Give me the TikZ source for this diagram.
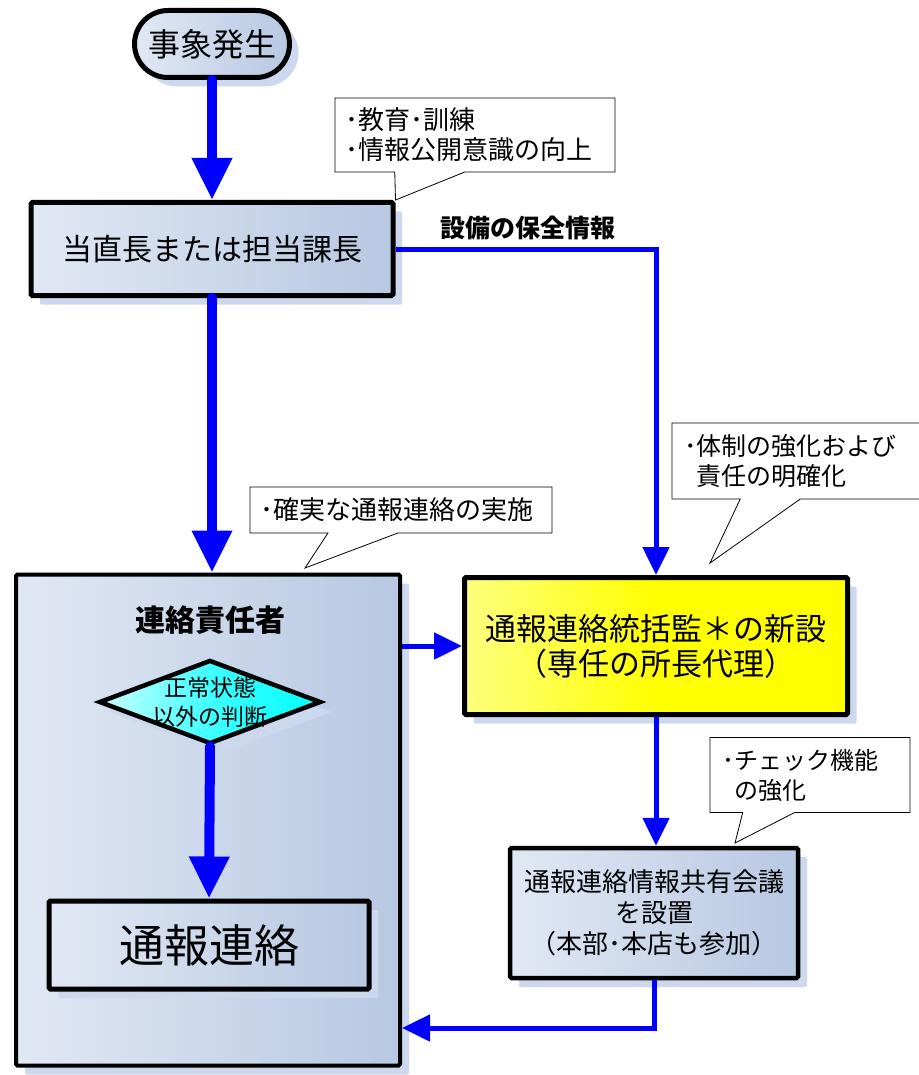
\documentclass[tikz,border=0pt]{standalone}
\usepackage{fontspec}
\setmainfont{Noto Sans CJK JP}
\usetikzlibrary{arrows.meta, shapes.geometric, shapes.misc, shapes.callouts, shadows}

\definecolor{boxlight}{HTML}{E1E8F4}
\definecolor{boxdark}{HTML}{B7C8E2}
\definecolor{shadowblue}{HTML}{CCD8EE}
\definecolor{flowblue}{HTML}{0000FF}

\newcommand{\jpsize}[2]{\fontsize{#1}{#2}\selectfont}

\begin{document}
\begin{tikzpicture}[
    x=1pt, y=-1pt,
    every node/.style={align=center, inner sep=0pt},
    base/.style={draw=black, line width=5pt,
        drop shadow={shadow xshift=9pt, shadow yshift=-9pt, fill=shadowblue, opacity=1}},
    stepbox/.style={base, rectangle, rounded corners=1.5pt, left color=boxlight, right color=boxdark},
    startbox/.style={base, rounded rectangle, left color=boxlight, right color=boxdark},
    judgebox/.style={base, diamond, left color=cyan!20, right color=cyan, middle color=cyan!75},
    keybox/.style={base, rectangle, rounded corners=1.5pt, left color=yellow!50, right color=yellow, middle color=yellow},
    note/.style={rectangle callout, draw=black, line width=0.8pt, fill=white, align=left,
        inner sep=0pt, callout pointer width=70pt},
    thick flow/.style={draw=flowblue, line width=10pt, line cap=round, -{Triangle[width=38pt,length=42pt]}},
    thin flow/.style={draw=flowblue, line width=5pt, -{Triangle[width=26pt,length=28pt]}}
]
\useasboundingbox (0,0) rectangle (918,1075);

% Start of the flow
\node[startbox, minimum width=155pt, minimum height=67pt, font=\jpsize{32}{38}] (event) at (212,44) {事象発生};
\node[stepbox, minimum width=362pt, minimum height=93pt, font=\jpsize{30}{36}] (duty) at (212,249) {当直長または担当課長};
\node[font=\bfseries\jpsize{25}{30}] (maint_label) at (528,228) {設備の保全情報};

% Liaison officer block
\node[stepbox, line width=4pt, minimum width=384pt, minimum height=491pt] (liaison) at (208,820) {};
\node[font=\bfseries\jpsize{30}{36}] (liaison_title) at (210,620) {連絡責任者};
\node[judgebox, line width=4.5pt, minimum width=222pt, minimum height=84pt,
    drop shadow={shadow xshift=11pt, shadow yshift=-10pt, fill=shadowblue, opacity=1}] (judge) at (210,702) {};
\node[font=\jpsize{23}{29}] (judge_text) at (judge) {正常状態\\以外の判断};
\node[stepbox, minimum width=320pt, minimum height=88pt, font=\jpsize{45}{54}] (report) at (209,945) {通報連絡};

% New posts
\node[keybox, minimum width=383pt, minimum height=137pt, font=\jpsize{31}{35}] (chief) at (656,646) {通報連絡統括監＊の新設\\（専任の所長代理）};
\node[stepbox, line width=4.5pt, minimum width=288pt, minimum height=130pt, font=\jpsize{26}{31}] (meeting) at (654,913) {通報連絡情報共有会議\\を設置\\（本部･本店も参加）};

% Callout tips
\coordinate (implement_tip) at (305,568);
\coordinate (system_tip) at (710,563);
\coordinate (check_tip) at (735,843);
\coordinate (return_pt) at (0,1028);

% Callouts
\node[note, minimum width=280pt, minimum height=74pt, inner xsep=10pt, text width=260pt,
    font=\jpsize{26}{30}, callout absolute pointer={(duty.north east)}] (training_note) at (475,135)
    {･教育･訓練\\･情報公開意識の向上};
\node[note, minimum width=302pt, minimum height=46pt, inner xsep=10pt, text width=282pt,
    font=\jpsize{26}{30}, callout absolute pointer={(implement_tip)}] (implement_note) at (401,510)
    {･確実な通報連絡の実施};
\node[note, minimum width=268pt, minimum height=76pt, inner xsep=12pt, text width=244pt,
    font=\jpsize{25}{30}, callout pointer width=60pt, callout absolute pointer={(system_tip)}] (system_note) at (806,461)
    {･体制の強化および\\\phantom{･}責任の明確化};
\node[note, minimum width=200pt, minimum height=75pt, inner xsep=12pt, text width=176pt,
    font=\jpsize{24}{30}, callout pointer width=52pt, callout absolute pointer={(check_tip)}] (check_note) at (810,775)
    {･チェック機能\\\phantom{･}の強化};

% Flow lines
\draw[thick flow] (event.south) -- (duty.north);
\draw[thick flow] (duty.south) -- (duty.south |- liaison.north);
\draw[thick flow] (judge.south) -- (report.north);
\draw[thin flow] (duty.east) -| (chief.north);
\draw[thin flow] (chief.west -| liaison.east) -- (chief.west);
\draw[thin flow] (chief.south) -- (chief.south |- meeting.north);
\draw[thin flow] (meeting.south) |- (liaison.east |- return_pt);

\end{tikzpicture}
\end{document}
